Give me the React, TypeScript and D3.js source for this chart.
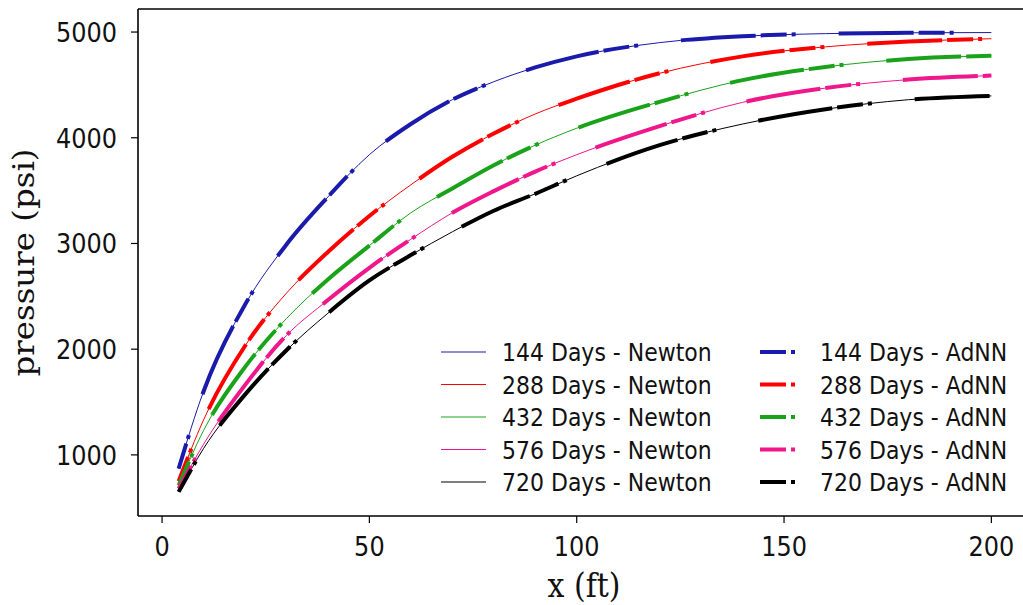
import React from "react";
import * as d3 from "d3";

const xValues = [4, 10, 20, 30, 40, 50, 60, 70, 80, 90, 100, 120, 140, 160, 180, 200];
const days = ["144", "288", "432", "576", "720"];
const p144 = [870, 1600, 2420, 2990, 3440, 3840, 4130, 4360, 4530, 4665, 4770, 4900, 4960, 4985, 4993, 4995];
const p288 = [750, 1330, 2030, 2530, 2920, 3260, 3555, 3820, 4040, 4225, 4370, 4610, 4770, 4860, 4910, 4937];
const p432 = [710, 1230, 1830, 2290, 2660, 2980, 3290, 3520, 3740, 3930, 4090, 4340, 4545, 4670, 4745, 4775];
const p576 = [680, 1100, 1660, 2130, 2465, 2770, 3040, 3290, 3495, 3680, 3840, 4110, 4335, 4470, 4550, 4588];
const p720 = [650, 1060, 1570, 1990, 2340, 2650, 2890, 3110, 3310, 3470, 3640, 3930, 4130, 4270, 4360, 4396];
const newtonSeries = [p144, p288, p432, p576, p720];
const adnnSeries = [p144, p288, p432, p576, p720];
const colors = ["#1a1aab", "#ff0000", "#1aa31a", "#f0168c", "#000000"];
const xTicks = [0, 50, 100, 150, 200];
const yTicks = [1000, 2000, 3000, 4000, 5000];

const W = 1023, H = 605;
const left = 138, right = 1032, top = 9, bottom = 516;
const DASH = "75 5 26 5 4 43";
const SY = 1.12;

function T(props: { x: number; y: number; size: number; anchor?: string; serif?: boolean; children: React.ReactNode }) {
  return (
    <text
      transform={`translate(${props.x},${props.y}) scale(1,${SY})`}
      textAnchor={props.anchor || "start"}
      fontFamily={props.serif ? "DejaVu Serif, serif" : "DejaVu Sans, sans-serif"}
      fontSize={props.size}
      fill="#111"
    >
      {props.children}
    </text>
  );
}

export default function App() {
  const x = d3.scaleLinear().domain([-5.8, 209.8]).range([left, right]);
  const y = d3.scaleLinear().domain([422, 5218]).range([bottom, top]);
  const line = d3
    .line<number>()
    .x((_, i) => x(xValues[i]))
    .y((d) => y(d))
    .curve(d3.curveMonotoneX);
  const rowY = [352, 384.5, 417, 449.5, 482];
  return (
    <svg width={W} height={H} style={{ position: "absolute", left: 0, top: 0, background: "#fff" }}>
      <defs>
        <clipPath id="clip">
          <rect x={left} y={top} width={right - left} height={bottom - top} />
        </clipPath>
      </defs>
      <g clipPath="url(#clip)">
        {newtonSeries.map((s, i) => (
          <path key={"n" + i} d={line(s) || ""} fill="none" stroke={colors[i]} strokeWidth={1} />
        ))}
        {adnnSeries.map((s, i) => (
          <path
            key={"a" + i}
            d={line(s) || ""}
            fill="none"
            stroke={colors[i]}
            strokeWidth={4}
            strokeDasharray={DASH}
            strokeDashoffset={80}
          />
        ))}
      </g>
      <line x1={left} x2={left} y1={top} y2={bottom} stroke="#000" strokeWidth={1.6} />
      <line x1={left} x2={W} y1={bottom} y2={bottom} stroke="#000" strokeWidth={1.6} />
      <line x1={left} x2={W} y1={top} y2={top} stroke="#000" strokeWidth={1.6} />
      {xTicks.map((t) => (
        <g key={"xt" + t}>
          <line x1={x(t)} x2={x(t)} y1={bottom} y2={bottom + 7} stroke="#000" strokeWidth={1.2} />
          <T x={x(t)} y={556} size={24} anchor="middle">
            {t}
          </T>
        </g>
      ))}
      {yTicks.map((t) => (
        <g key={"yt" + t}>
          <line x1={left - 7} x2={left} y1={y(t)} y2={y(t)} stroke="#000" strokeWidth={1.2} />
          <T x={117} y={y(t) + 10} size={24} anchor="end">
            {t}
          </T>
        </g>
      ))}
      <T x={584} y={597} size={30} anchor="middle" serif>
        x (ft)
      </T>
      <text
        transform={`translate(34, ${(top + bottom) / 2}) scale(1,${SY}) rotate(-90)`}
        textAnchor="middle"
        fontFamily="DejaVu Serif, serif"
        fontSize={29}
        fill="#111"
      >
        pressure (psi)
      </text>
      {days.map((d, i) => (
        <g key={"lg" + i}>
          <line x1={441} x2={486} y1={rowY[i]} y2={rowY[i]} stroke={colors[i]} strokeWidth={1} />
          <T x={502} y={rowY[i] + 9} size={22} anchor="start">
            {d} Days - Newton
          </T>
          <line
            x1={760}
            x2={805}
            y1={rowY[i]}
            y2={rowY[i]}
            stroke={colors[i]}
            strokeWidth={4}
            strokeDasharray={DASH}
            strokeDashoffset={80}
          />
          <T x={820} y={rowY[i] + 9} size={22} anchor="start">
            {d} Days - AdNN
          </T>
        </g>
      ))}
    </svg>
  );
}
